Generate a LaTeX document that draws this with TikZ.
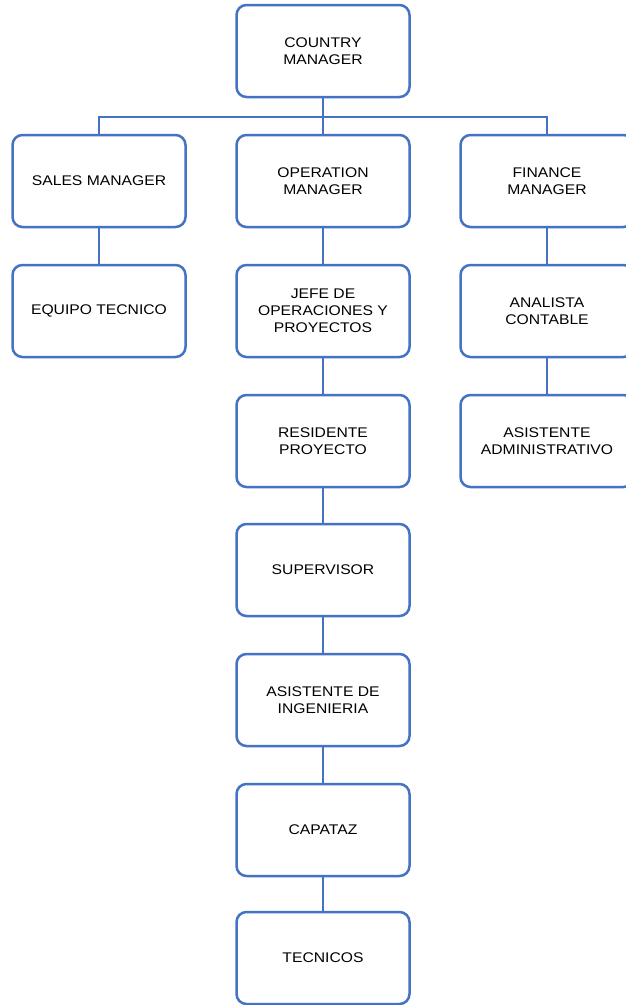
\documentclass[tikz,border=0pt]{standalone}
\usepackage{fontspec}
\setmainfont[FakeStretch=1.12]{Liberation Sans}
\usepackage{tikz}
\usetikzlibrary{positioning}
\definecolor{orgblue}{RGB}{68,114,196}

\begin{document}
\begin{tikzpicture}[x=1pt,y=-1pt,
    unit/.style={draw=orgblue,line width=2.5pt,rounded corners=10pt,fill=white,
        minimum width=173pt,minimum height=92pt,align=center,inner sep=2pt,
        font=\fontsize{14}{17}\selectfont},
    link/.style={draw=orgblue,line width=2.5pt}]
    \clip (0,0) rectangle (626,1005);
    \fill[white] (0,0) rectangle (626,1005);
    % top
    \node[unit] (country) at (323,51) {COUNTRY\\MANAGER};
    \coordinate (bar) at (323,117);
    % managers
    \node[unit] (sales) at (99,181) {SALES MANAGER};
    \node[unit] (operation) at (323,181) {OPERATION\\MANAGER};
    \node[unit] (finance) at (547,181) {FINANCE\\MANAGER};
    % sales branch
    \node[unit] (equipo) at (99,311) {EQUIPO TECNICO};
    % operation branch
    \node[unit] (jefe) at (323,311) {JEFE DE\\OPERACIONES Y\\PROYECTOS};
    \node[unit] (residente) at (323,441) {RESIDENTE\\PROYECTO};
    \node[unit] (supervisor) at (323,570) {SUPERVISOR};
    \node[unit] (asisting) at (323,700) {ASISTENTE DE\\INGENIERIA};
    \node[unit] (capataz) at (323,830) {CAPATAZ};
    \node[unit] (tecnicos) at (323,958) {TECNICOS};
    % finance branch
    \node[unit] (analista) at (547,311) {ANALISTA\\CONTABLE};
    \node[unit] (asisadm) at (547,441) {ASISTENTE\\ADMINISTRATIVO};

    \draw[link] (country) -- (operation);
    \draw[link] (bar) -| (sales);
    \draw[link] (bar) -| (finance);
    \draw[link] (sales) -- (equipo);
    \draw[link] (operation) -- (jefe);
    \draw[link] (jefe) -- (residente);
    \draw[link] (residente) -- (supervisor);
    \draw[link] (supervisor) -- (asisting);
    \draw[link] (asisting) -- (capataz);
    \draw[link] (capataz) -- (tecnicos);
    \draw[link] (finance) -- (analista);
    \draw[link] (analista) -- (asisadm);
\end{tikzpicture}
\end{document}
